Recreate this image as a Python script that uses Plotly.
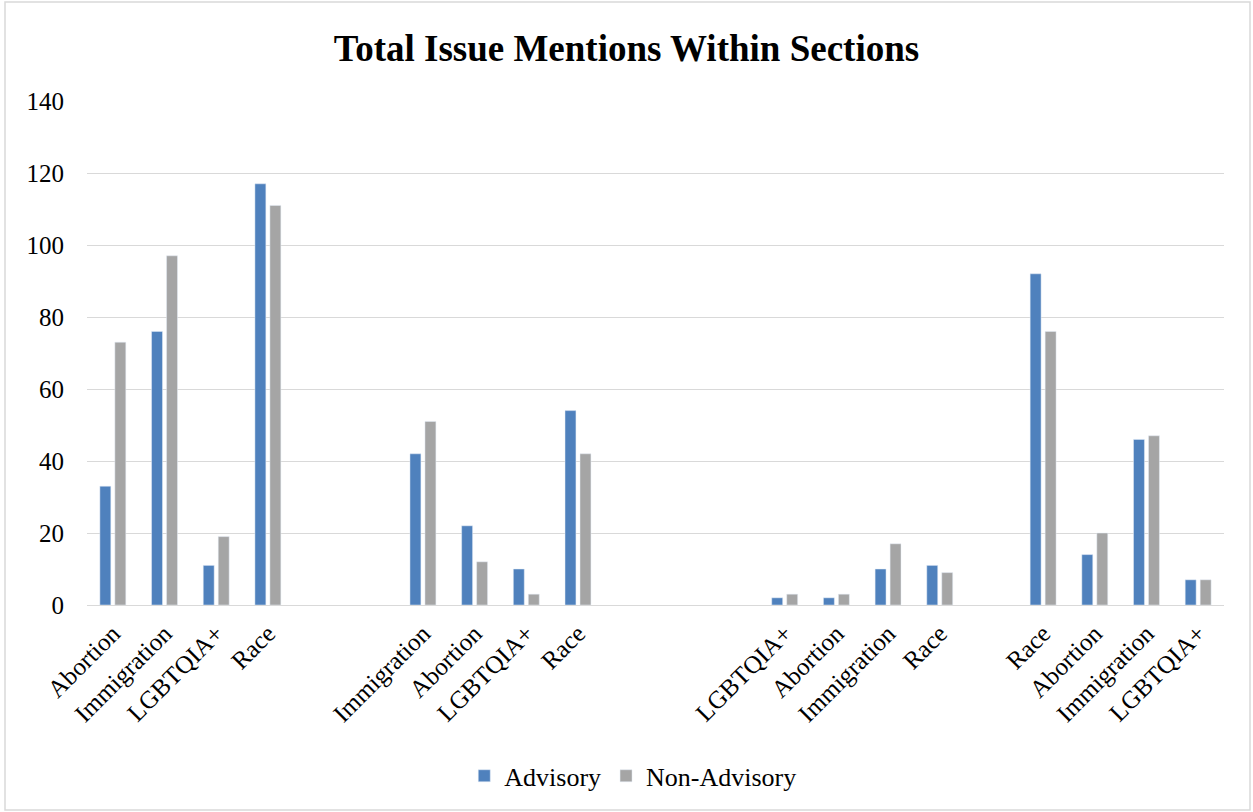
import plotly.graph_objects as go

# Category slots (empty strings are spacer slots between sections)
categories = ["Abortion", "Immigration", "LGBTQIA+", "Race", "", "",
              "Immigration", "Abortion", "LGBTQIA+", "Race", "", "", "",
              "LGBTQIA+", "Abortion", "Immigration", "Race", "",
              "Race", "Abortion", "Immigration", "LGBTQIA+"]
advisory = [33, 76, 11, 117, None, None,
            42, 22, 10, 54, None, None, None,
            2, 2, 10, 11, None,
            92, 14, 46, 7]
non_advisory = [73, 97, 19, 111, None, None,
                51, 12, 3, 42, None, None, None,
                3, 3, 17, 9, None,
                76, 20, 47, 7]
y_ticks = [0, 20, 40, 60, 80, 100, 120, 140]

slots = list(range(len(categories)))
FONT = "Liberation Serif, Times New Roman, serif"

fig = go.Figure()
fig.add_trace(go.Bar(x=slots, y=advisory, name="Advisory", marker_color="#4f81bd"))
fig.add_trace(go.Bar(x=slots, y=non_advisory, name="Non-Advisory", marker_color="#a5a5a5"))

fig.update_layout(
    width=1253, height=812,
    margin=dict(l=87, r=29, t=101, b=207),
    paper_bgcolor="white", plot_bgcolor="white",
    barmode="group", bargap=0.42, bargroupgap=0.27,
    font=dict(family=FONT, size=25, color="black"),
    title=dict(text="<b>Total Issue Mentions Within Sections</b>",
               x=0.5, xanchor="center", y=1 - 48 / 812, yanchor="middle",
               font=dict(family=FONT, size=37, color="black")),
    showlegend=True,
    legend=dict(orientation="h", x=0.48, xanchor="center", y=-0.339, yanchor="middle",
                font=dict(family=FONT, size=26, color="black"), itemwidth=30),
    xaxis=dict(tickmode="array", tickvals=slots, ticktext=categories, tickangle=-45,
               range=[-0.5, len(categories) - 0.5], showgrid=False, zeroline=False,
               showline=False, ticks="", ticklabelstandoff=8,
               tickfont=dict(family=FONT, size=25, color="black")),
    yaxis=dict(range=[0, 140], tickvals=y_ticks, showgrid=True, gridcolor="#d9d9d9",
               gridwidth=1, zeroline=True, zerolinecolor="#d9d9d9", zerolinewidth=1,
               showline=False, ticks="", ticklabelstandoff=22,
               tickfont=dict(family=FONT, size=25, color="black")),
    shapes=[dict(type="rect", xref="paper", yref="paper",
                 x0=-82 / 1137, x1=(1250 - 87) / 1137,
                 y0=(605 - 810) / 504, y1=(605 - 2) / 504,
                 line=dict(color="#d9d9d9", width=1.5), fillcolor="rgba(0,0,0,0)",
                 layer="below")],
)

fig.write_html("out.html")
